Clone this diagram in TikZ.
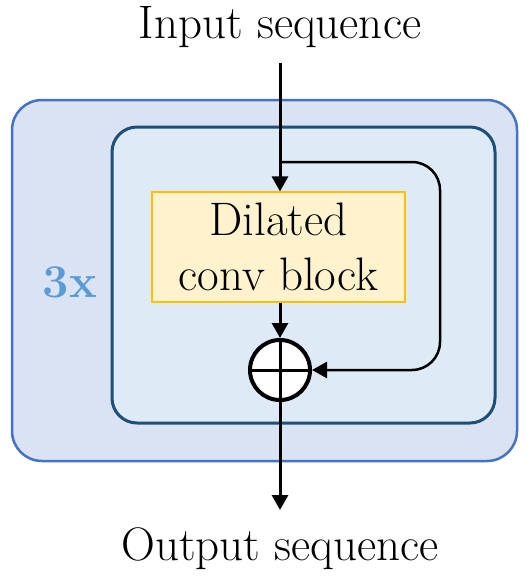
\documentclass[tikz,border=0pt]{standalone}
\usetikzlibrary{arrows.meta}
\definecolor{outerfill}{HTML}{DAE3F3}
\definecolor{outerdraw}{HTML}{4472C4}
\definecolor{innerfill}{HTML}{DEEBF7}
\definecolor{innerdraw}{HTML}{1F4E79}
\definecolor{yfill}{HTML}{FFF2CC}
\definecolor{ydraw}{HTML}{FFC000}
\definecolor{labblue}{HTML}{5B9BD5}
\begin{document}
\begin{tikzpicture}[x=1pt,y=-1pt,
  big/.style={font=\fontsize{47}{55}\selectfont},
  tip/.style={-{Triangle[length=15pt,width=16pt]}},
  conn/.style={line width=3pt,tip},
  plain/.style={line width=3pt}]
\useasboundingbox (0,0) rectangle (530,579);
\node[draw=outerdraw,fill=outerfill,line width=2.5pt,rounded corners=30pt,minimum width=505pt,minimum height=361pt,inner sep=0pt] (outer) at (264.5,280.5) {};
\node[draw=innerdraw,fill=innerfill,line width=3pt,rounded corners=25pt,minimum width=383pt,minimum height=296pt,inner sep=0pt] (inner) at (303.5,275) {};
\node[draw=ydraw,fill=yfill,line width=1.2pt,minimum width=253pt,minimum height=110pt,inner sep=0pt,big,align=center] (conv) at (278.5,247) {Dilated\\conv block};
\node[big] (in) at (280,27) {Input sequence};
\node[big] (out) at (280,549) {Output sequence};
\node[big,text=labblue] (rep) at (70,282) {\bfseries 3x};
\node[circle,draw,fill=white,line width=4pt,minimum size=60pt,inner sep=0pt] (add) at (280,370) {};
\coordinate (start) at (280,63);
\coordinate (split) at (280,162);
\coordinate (corner1) at (440,162);
\coordinate (corner2) at (440,370);
\coordinate (end) at (280,510);
\draw[plain] (add.west) -- (add.east);
\draw[plain] (add.north) -- (add.south);
\draw[conn] (start) -- (start |- conv.north);
\draw[line width=2.5pt,tip,rounded corners=28pt] (split) -- (corner1) -- (corner2) -- (add.east);
\draw[conn] (add.north |- conv.south) -- (add.north);
\draw[conn] (add.south) -- (end);
\end{tikzpicture}
\end{document}
